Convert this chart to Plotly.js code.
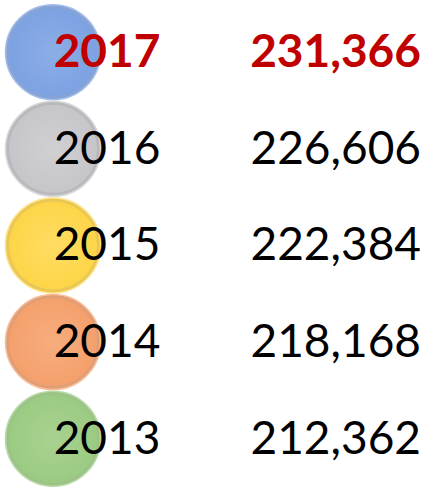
<!DOCTYPE html>
<html>
<head>
<meta charset="utf-8">
<script src="https://cdn.plot.ly/plotly-3.0.1.min.js"></script>
<style>html,body{margin:0;padding:0;background:#fff;}#chart{width:433px;height:487px;}</style>
</head>
<body>
<div id="chart"></div>
<script>
var years = ["2017", "2016", "2015", "2014", "2013"];
var values = [231366, 226606, 222384, 218168, 212362];
var ballColors = ["#7DA2E2", "#C6C6CA", "#FDD548", "#F4A06C", "#9BCB82"];
var ballCenters = ["#8CAEE8", "#D0D0D3", "#FFDD63", "#F7AD7E", "#A8D290"];
var ballEdges = ["#6A8CCB", "#A8A8AC", "#E3BA2C", "#D98656", "#84B56A"];
var textColors = ["#C00000", "#000000", "#000000", "#000000", "#000000"];
var fontFamily = "Lato, 'Open Sans', sans-serif";

var idx = years.map(function(_, i){ return i; });
function fmt(v){ return v.toLocaleString("en-US"); }

var ballRims = {
  type: "scatter", mode: "markers",
  x: idx.map(function(){ return 53; }), y: idx,
  marker: { size: 95, color: ballEdges, opacity: 0.8,
    line: { color: ballCenters, width: 1.5 } },
  hoverinfo: "skip", showlegend: false
};
var balls = {
  type: "scatter", mode: "markers",
  x: idx.map(function(){ return 53; }), y: idx,
  marker: { size: 88, color: ballColors,
    gradient: { type: "radial", color: ballCenters },
    line: { width: 0 } },
  hoverinfo: "skip", showlegend: false
};
var yearText = {
  type: "scatter", mode: "text", yaxis: "y2",
  x: idx.map(function(){ return 107; }), y: idx,
  text: years.map(function(y, i){ return i === 0 ? "<b>" + y + "</b>" : y; }),
  textposition: "middle center",
  textfont: { family: fontFamily, size: 46, color: textColors },
  hoverinfo: "skip", showlegend: false
};
var valueText = {
  type: "scatter", mode: "text", yaxis: "y2",
  x: idx.map(function(){ return 421; }), y: idx,
  text: values.map(function(v, i){ return i === 0 ? "<b>" + fmt(v) + "</b>" : fmt(v); }),
  textposition: "middle left",
  textfont: { family: fontFamily, size: 46, color: textColors },
  hoverinfo: "skip", showlegend: false
};

var layout = {
  width: 433, height: 487,
  margin: { l: 0, r: 0, t: 0, b: 0, pad: 0 },
  paper_bgcolor: "#ffffff", plot_bgcolor: "#ffffff",
  xaxis: { range: [0, 433], visible: false, fixedrange: true },
  yaxis: { range: [4.5, -0.54], visible: false, fixedrange: true },
  yaxis2: { range: [4.465, -0.575], visible: false, fixedrange: true, overlaying: "y" },
  showlegend: false
};
Plotly.newPlot("chart", [ballRims, balls, yearText, valueText], layout, { staticPlot: true, displayModeBar: false });
</script>
</body>
</html>
